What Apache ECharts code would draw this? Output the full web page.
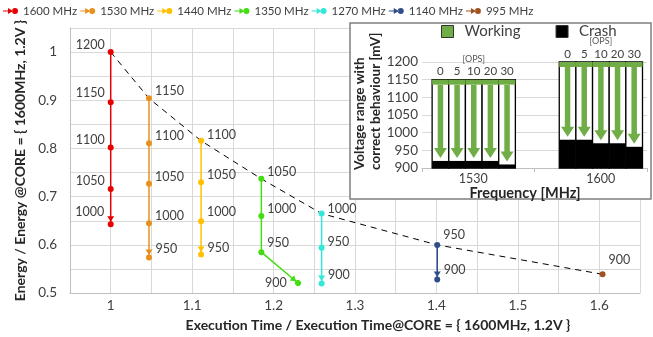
<!DOCTYPE html>
<html><head><meta charset="utf-8">
<script src="https://cdn.jsdelivr.net/npm/echarts@6/dist/echarts.min.js"></script>
<style>html,body{margin:0;padding:0;background:#fff}#c{width:653px;height:337px}</style>
</head><body><div id="c"></div>
<script>
// ---------- main chart data ----------
const frequencies = ['1600 MHz','1530 MHz','1440 MHz','1350 MHz','1270 MHz','1140 MHz','995 MHz'];
const voltage1600 = [1200, 1150, 1100, 1050, 1000];
const time1600    = [1.0, 1.0, 1.0, 1.0, 1.0];
const energy1600  = [1.0, 0.896, 0.802, 0.716, 0.643];
const voltage1530 = [1150, 1100, 1050, 1000, 950];
const time1530    = [1.047, 1.047, 1.047, 1.047, 1.047];
const energy1530  = [0.904, 0.811, 0.727, 0.645, 0.574];
const voltage1440 = [1100, 1050, 1000, 950];
const time1440    = [1.111, 1.111, 1.111, 1.111];
const energy1440  = [0.816, 0.730, 0.649, 0.580];
const voltage1350 = [1050, 1000, 950, 900];
const time1350    = [1.185, 1.185, 1.185, 1.230];
const energy1350  = [0.737, 0.660, 0.585, 0.521];
const voltage1270 = [1000, 950, 900];
const time1270    = [1.259, 1.259, 1.259];
const energy1270  = [0.665, 0.594, 0.520];
const voltage1140 = [950, 900];
const time1140    = [1.401, 1.401];
const energy1140  = [0.600, 0.528];
const voltage995  = [900];
const time995     = [1.604];
const energy995   = [0.539];

// ---------- inset data ----------
const insetFrequencies = ['1530', '1600'];
const opsLevels = ['0', '5', '10', '20', '30'];
const workingTop = [1150, 1200];
const crash1530 = [920, 920, 920, 920, 910];
const crash1600 = [980, 980, 970, 970, 960];
const insetYTicks = [900, 1200, 50];

// ---------- styles ----------
const FONT = 'Lato';
const TXT = '#404040';
const colors = ['#e60000','#e8901c','#ffc000','#44dd11','#33e8d8','#2f4d8a','#a0521e'];
const labelLayout = [
  {pos:['left','left','left','left','left'], dy:[-7,-9,-8,-8,-12]},
  {pos:['right','right','right','right','right'], dy:[-7,-7,-7,-7,-8]},
  {pos:['right','right','right','right'], dy:[-6,-7,-9,-7]},
  {pos:['right','right','right','left'], dy:[-7,-7,-9,0]},
  {pos:['right','right','right'], dy:[-5,-6,-8]},
  {pos:['right','right'], dy:[-10,-10]},
  {pos:['right'], dy:[-14]}
];
const ARROW_DOT = 'path://M-3.5 -8 L3.5 -8 L0 -2.5 Z M-3 0 A3 3 0 1 0 3 0 A3 3 0 1 0 -3 0 Z M0 8 L0.01 8 L0 8 Z';
const LEGEND_ICON = 'path://M0 3 L6 3 L6 4 L0 4 Z M5 0.5 L10 3.5 L5 6.5 Z M9 3.5 A3 3 0 1 0 15 3.5 A3 3 0 1 0 9 3.5 Z';
const GREEN = '#70ad47';
const groupShift = [-0.04, 0.09];

const seriesTime = [time1600, time1530, time1440, time1350, time1270, time1140, time995];
const seriesEnergy = [energy1600, energy1530, energy1440, energy1350, energy1270, energy1140, energy995];
const seriesVoltage = [voltage1600, voltage1530, voltage1440, voltage1350, voltage1270, voltage1140, voltage995];
const crashByFreq = [crash1530, crash1600];

const insetData = [];
crashByFreq.forEach((arr, c) => arr.forEach((v, o) => insetData.push([c, o, v, workingTop[c]])));

function tickFmt(v) {
  const r = Math.round(v * 100);
  return r % 10 === 0 ? String(r / 100) : '';
}

function renderCrash(params, api) {
  const cat = api.value(0), ops = api.value(1), crash = api.value(2), top = api.value(3);
  const base = api.coord([cat, insetYTicks[0]]);
  const band = api.size([1, 0])[0];
  const bw = band * 0.148;
  const cx = base[0] + band * groupShift[cat];
  const x0 = cx - bw * 2.5 + ops * bw;
  const yTop = api.coord([cat, top])[1];
  const yCrash = api.coord([cat, crash])[1];
  return {type: 'group', children: [
    {type: 'rect', shape: {x: x0, y: yTop, width: bw, height: base[1] - yTop}, style: {fill: '#fff', stroke: '#000', lineWidth: 1.3}},
    {type: 'rect', shape: {x: x0, y: yCrash, width: bw, height: base[1] - yCrash}, style: {fill: '#000'}}
  ]};
}

function renderWorking(params, api) {
  const cat = api.value(0), ops = api.value(1), crash = api.value(2), top = api.value(3);
  const base = api.coord([cat, insetYTicks[0]]);
  const band = api.size([1, 0])[0];
  const bw = band * 0.148;
  const cx = base[0] + band * groupShift[cat];
  const x0 = cx - bw * 2.5 + ops * bw;
  const bx = x0 + bw / 2;
  const yTop = api.coord([cat, top])[1];
  const yCrash = api.coord([cat, crash])[1];
  const barH = 5, s = bw * 0.33, h = bw * 0.78, hh = 10;
  const tip = yCrash - 3;
  const children = [
    {type: 'rect', shape: {x: x0, y: yTop, width: bw, height: barH}, style: {fill: GREEN}},
    {type: 'polygon', shape: {points: [
      [bx - s/2, yTop + barH], [bx + s/2, yTop + barH], [bx + s/2, tip - hh], [bx + h/2, tip - hh],
      [bx, tip], [bx - h/2, tip - hh], [bx - s/2, tip - hh]]}, style: {fill: GREEN}},
    {type: 'text', x: bx, y: yTop - 8, style: {text: opsLevels[ops], fill: TXT, font: '11.5px ' + FONT, align: 'center', verticalAlign: 'middle'}}
  ];
  if (ops === 2) {
    children.push({type: 'text', x: bx, y: yTop - 21, style: {text: '[OPS]', fill: '#595959', font: '9px ' + FONT, align: 'center', verticalAlign: 'middle'}});
  }
  return {type: 'group', children};
}

function buildOption(rots) {
  const mainSeries = frequencies.map((name, i) => {
    const t = seriesTime[i], e = seriesEnergy[i], v = seriesVoltage[i];
    const n = t.length;
    const data = t.map((x, k) => {
      const item = {
        value: [x, e[k], v[k]],
        label: {position: labelLayout[i].pos[k], offset: [0, labelLayout[i].dy[k]]}
      };
      if (k === n - 1 && n > 1) {
        item.symbol = ARROW_DOT;
        item.symbolSize = [7, 16];
        item.symbolRotate = rots ? rots[i] : 0;
      }
      return item;
    });
    return {
      name, type: 'line', xAxisIndex: 0, yAxisIndex: 0, data,
      color: colors[i], symbol: 'circle', symbolSize: 6, showAllSymbol: true,
      lineStyle: {width: 1.5, color: colors[i]},
      itemStyle: {color: colors[i], borderWidth: 0},
      label: {show: true, distance: 3, formatter: p => String(p.value[2]), color: TXT, fontFamily: FONT, fontSize: 12.5},
      z: 3
    };
  });
  const envelope = {
    name: 'envelope', type: 'line', xAxisIndex: 0, yAxisIndex: 0,
    data: seriesTime.map((t, i) => [t[0], seriesEnergy[i][0]]),
    symbol: 'none', lineStyle: {color: '#000', width: 1, type: [6, 5]}, z: 2, silent: true
  };
  return {
    animation: false,
    textStyle: {fontFamily: FONT},
    legend: [
      {data: frequencies, left: -2, top: 0, icon: LEGEND_ICON, itemWidth: 15, itemHeight: 6, itemGap: 3,
       textStyle: {color: TXT, fontSize: 11.5, fontFamily: FONT}},
      {data: ['Working', 'Crash'], left: 436, top: 19, icon: 'rect', itemWidth: 12, itemHeight: 12, itemGap: 35, z: 20,
       itemStyle: {borderColor: '#333', borderWidth: 1},
       textStyle: {color: TXT, fontSize: 15, fontFamily: FONT, padding: [0, 0, 0, 6]}}
    ],
    grid: [
      {left: 70, right: 13, top: 28, bottom: 43},
      {left: 422, right: 6, top: 62, bottom: 169, z: 10}
    ],
    xAxis: [
      {type: 'value', gridIndex: 0, min: 0.95, max: 1.65, interval: 0.05,
       axisLine: {show: true, lineStyle: {color: '#bfbfbf'}}, axisTick: {show: false},
       splitLine: {show: true, lineStyle: {color: '#d9d9d9'}},
       axisLabel: {formatter: tickFmt, color: TXT, fontSize: 13.5, fontFamily: FONT, margin: 6},
       name: 'Execution Time / Execution Time@CORE = { 1600MHz, 1.2V }', nameLocation: 'middle', nameGap: 23,
       nameTextStyle: {fontWeight: 'bold', fontSize: 14, color: '#262626', fontFamily: FONT, padding: [0, 0, 0, 46]}},
      {type: 'category', gridIndex: 1, data: insetFrequencies, z: 10,
       axisLine: {show: true, lineStyle: {color: '#bfbfbf'}},
       axisTick: {show: true, length: 4, lineStyle: {color: '#bfbfbf'}},
       axisLabel: {color: TXT, fontFamily: FONT, fontSize: 12.5, margin: 4,
         formatter: (v, idx) => idx === 0 ? '{a|' + v + '}' : '{b|' + v + '}',
         rich: {a: {padding: [0, 10, 0, 0], fontSize: 12.5, color: TXT, fontFamily: FONT},
                b: {padding: [0, 0, 0, 20], fontSize: 12.5, color: TXT, fontFamily: FONT}}},
       name: 'Frequency [MHz]', nameLocation: 'middle', nameGap: 17,
       nameTextStyle: {fontWeight: 'bold', fontSize: 14.5, color: '#262626', fontFamily: FONT, padding: [0, 19, 0, 0]}}
    ],
    yAxis: [
      {type: 'value', gridIndex: 0, min: 0.5, max: 1.05, interval: 0.05,
       axisLine: {show: true, lineStyle: {color: '#bfbfbf'}}, axisTick: {show: false},
       splitLine: {show: true, lineStyle: {color: '#d9d9d9'}},
       axisLabel: {formatter: tickFmt, color: TXT, fontSize: 13.5, fontFamily: FONT, margin: 13},
       name: 'Energy / Energy @CORE = { 1600MHz, 1.2V }', nameLocation: 'middle', nameGap: 43,
       nameTextStyle: {fontWeight: 'bold', fontSize: 14, color: '#262626', fontFamily: FONT}},
      {type: 'value', gridIndex: 1, min: insetYTicks[0], max: insetYTicks[1], interval: insetYTicks[2], z: 10,
       axisLine: {show: false}, axisTick: {show: false},
       splitLine: {show: true, lineStyle: {color: '#d9d9d9'}},
       axisLabel: {color: TXT, fontSize: 13.5, fontFamily: FONT, margin: 4, formatter: v => String(v)}}
    ],
    graphic: {elements: [
      {type: 'rect', shape: {x: 350, y: 23, width: 301, height: 176}, style: {fill: '#fff', stroke: '#7f7f7f', lineWidth: 1.5}, z: 5},
      {type: 'text', x: 368, y: 170, rotation: Math.PI / 2, z: 20,
       style: {text: 'Voltage range with\ncorrect behaviour [mV]', fill: '#262626', font: 'bold 13.5px ' + FONT,
               lineHeight: 16, align: 'left', verticalAlign: 'middle'}}
    ]},
    series: [envelope, ...mainSeries,
      {name: 'Crash', type: 'custom', xAxisIndex: 1, yAxisIndex: 1, data: insetData, renderItem: renderCrash,
       itemStyle: {color: '#000'}, z: 12, silent: true},
      {name: 'Working', type: 'custom', xAxisIndex: 1, yAxisIndex: 1, data: insetData, renderItem: renderWorking,
       itemStyle: {color: GREEN}, z: 13, silent: true}
    ]
  };
}

const chart = echarts.init(document.getElementById('c'), null, {renderer: 'canvas'});
chart.setOption(buildOption(null));
const rots = seriesTime.map((t, i) => {
  const n = t.length;
  if (n < 2) return 0;
  const a = chart.convertToPixel({xAxisIndex: 0, yAxisIndex: 0}, [t[n-2], seriesEnergy[i][n-2]]);
  const b = chart.convertToPixel({xAxisIndex: 0, yAxisIndex: 0}, [t[n-1], seriesEnergy[i][n-1]]);
  return 90 - Math.atan2(b[1] - a[1], b[0] - a[0]) * 180 / Math.PI;
});
chart.setOption(buildOption(rots));
</script></body></html>
